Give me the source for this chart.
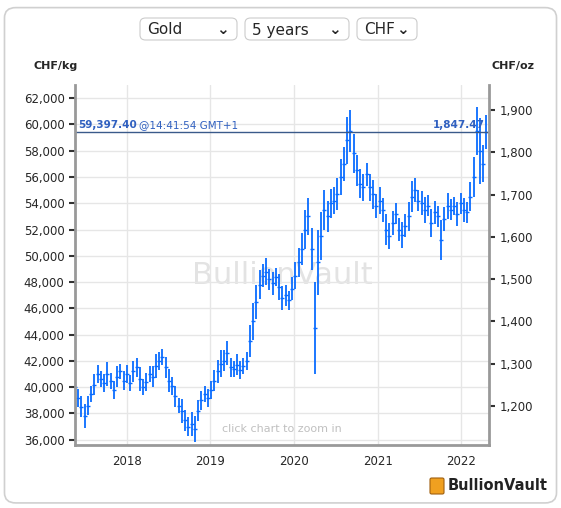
import numpy as np, pandas as pd, matplotlib
matplotlib.use("Agg")
import matplotlib.pyplot as plt, seaborn as sns
from matplotlib.patches import FancyBboxPatch

sns.set_style("white")
plt.rcParams['font.family'] = ['DejaVu Sans']

close = [40000,39200,38500,37800,38600,39500,40200,41000,40600,40300,41000,40500,39800,40800,41200,40500,
 41000,40300,41200,41500,40600,40000,40400,41000,40800,41600,42000,42300,41500,40500,40100,39300,38600,38200,37500,37000,37200,36800,38200,39000,39500,39200,
 39800,40500,41200,41800,42000,42600,41500,41400,41700,41300,41600,42000,43500,45000,46500,47800,48500,48800,48200,47900,48400,47600,46800,47000,46600,47500,
 48500,49500,50500,52000,53000,50500,44500,49500,51500,53500,53000,54000,54200,54700,56000,57000,58800,59500,57800,56500,55500,55200,56200,55200,54700,53800,
 54200,53500,52000,51500,52500,53200,52000,51600,52300,53000,54500,55000,54200,54000,53500,53800,52500,53300,53000,51200,52800,53800,53500,53800,53200,54000,
 53500,53300,54500,56000,59500,58000,57000,59400]
spread = [600,700,800,900,700,600,800,700,600,700,900,600,700,800,600,700,
 700,600,800,700,900,600,700,600,800,900,700,600,800,900,700,800,600,900,800,700,900,1000,800,700,600,700,
 700,800,900,1000,800,900,700,600,800,700,600,700,1200,1400,1300,1100,900,1000,800,900,700,1000,900,800,700,900,
 1000,1100,1200,1500,1400,1600,3500,2500,1800,1500,1200,1100,1000,1200,1400,1300,1800,1600,1500,1200,1100,1000,900,1000,1100,900,
 1000,900,1200,1000,900,800,900,1000,900,1100,1200,900,800,900,1000,800,1100,900,800,1500,900,1000,800,700,900,800,
 900,800,1100,1500,1800,2500,1400,1300]

n = len(close)
t = np.linspace(2017.38, 2022.3, n)
df = pd.DataFrame({"t": t, "close": close, "hi": np.array(close)+np.array(spread), "lo": np.array(close)-np.array(spread)})

fig = plt.figure(figsize=(5.61, 5.08), dpi=100)
fig.patches.append(FancyBboxPatch((0.008, 0.01), 0.984, 0.975, boxstyle="round,pad=0,rounding_size=0.02",
    transform=fig.transFigure, fc="white", ec="#d0d0d0", lw=1.2, zorder=-10))
ax = fig.add_axes([75/561, 1-445/508, (489-75)/561, (445-85)/508])
ax.patch.set_alpha(0)
blue = "#0a6cff"
ax.vlines(df.t, df.lo, df.hi, color=blue, lw=1.3)
sns.scatterplot(data=df, x="t", y="close", marker="_", s=12, color=blue, linewidth=1, ax=ax, legend=False)
ax.set_xlim(2017.38, 2022.33)
ax.set_ylim(35600, 63000)
ax.set_yticks(range(36000, 62001, 2000))
ax.set_yticklabels([f"{v:,}" for v in range(36000, 62001, 2000)], fontsize=8.5)
ax.set_xticks([2018, 2019, 2020, 2021, 2022])
ax.set_xticklabels(["2018", "2019", "2020", "2021", "2022"], fontsize=8.5)
ax.grid(True, color="#e6e6e6", lw=1)
ax.set_axisbelow(True)
ax.set_xlabel(""); ax.set_ylabel("")
for s in ["top", "right"]: ax.spines[s].set_visible(False)
for s in ["left", "bottom"]: ax.spines[s].set_color("#999"); ax.spines[s].set_linewidth(2)
ax.tick_params(length=4, color="#333", width=1.5)
ax2 = ax.twinx()
ax2.set_ylim(35600/32.15, 63000/32.15)
ax2.set_yticks(range(1200, 1901, 100))
ax2.set_yticklabels([f"{v:,}" for v in range(1200, 1901, 100)], fontsize=8.5)
for s in ["top", "left", "bottom"]: ax2.spines[s].set_visible(False)
ax2.spines["right"].set_color("#999"); ax2.spines["right"].set_linewidth(2)
ax2.tick_params(length=4, color="#333", width=1.5)

ax.axhline(59397.4, color="#3a5a8a", lw=1)
ax.text(2017.42, 59550, "59,397.40", color="#3060c0", fontsize=7.5, fontweight="bold", va="bottom")
ax.text(2018.14, 59550, "@14:41:54 GMT+1", color="#3060c0", fontsize=7.5, va="bottom")
ax.text(2022.28, 59550, "1,847.47", color="#3060c0", fontsize=7.5, fontweight="bold", va="bottom", ha="right")
ax.text(0.5, 0.47, "BullionVault", transform=ax.transAxes, ha="center", va="center", fontsize=22, color="#e3e3e3", zorder=0)
ax.text(0.5, 0.035, "click chart to zoom in", transform=ax.transAxes, ha="center", fontsize=8, color="#c0c0c0")
fig.text(33/561, 1-69/508, "CHF/kg", fontsize=8, fontweight="bold")
fig.text(492/561, 1-69/508, "CHF/oz", fontsize=8, fontweight="bold")
for x0, w, lab in [(140, 97, "Gold"), (245, 104, "5 years"), (357, 60, "CHF")]:
    fig.patches.append(FancyBboxPatch((x0/561, 1-40/508), w/561, 22/508, boxstyle="round,pad=0,rounding_size=0.01",
        transform=fig.transFigure, fc="white", ec="#cccccc", lw=0.8))
    fig.text((x0+7)/561, 1-30/508, lab, fontsize=11, va="center")
    fig.text((x0+w-8)/561, 1-30/508, "⌄", fontsize=11, va="center", ha="right", fontweight="bold")
fig.patches.append(FancyBboxPatch((430/561, 1-494/508), 14/561, 16/508, boxstyle="round,pad=0,rounding_size=0.003",
    transform=fig.transFigure, fc="#f0a020", ec="#a06010", lw=0.8))
fig.text(448/561, 1-485/508, "BullionVault", fontsize=10.5, fontweight="bold", va="center", color="#222")
fig.savefig("out.png", dpi=100)
